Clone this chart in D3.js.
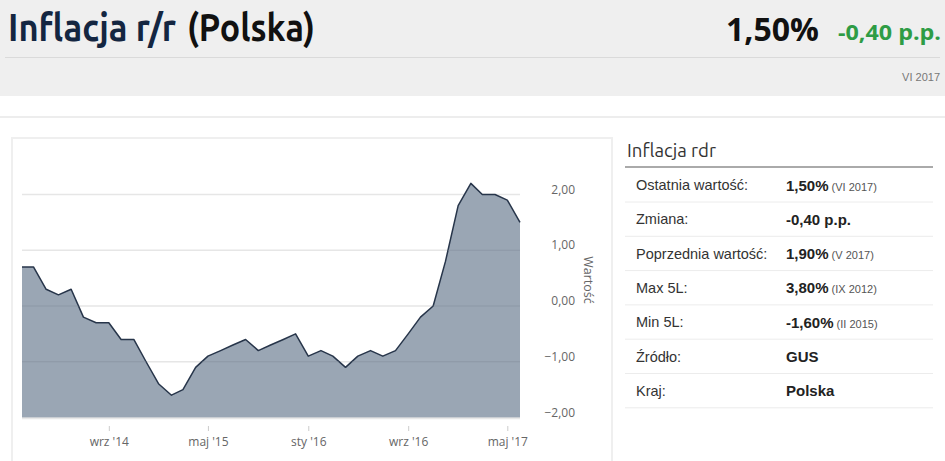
<!DOCTYPE html>
<html lang="pl">
<head>
<meta charset="utf-8">
<title>Inflacja r/r (Polska)</title>
<script src="https://cdn.jsdelivr.net/npm/d3@7"></script>
<style>
    body {margin: 0; background: #fff;}
    svg {display: block;}
    .axis text {font-family: "Open Sans", sans-serif; font-size: 12px; fill: #666;}
    .tbl {font-family: "Liberation Sans", Arial, sans-serif;}
    .ttl {font-family: Ubuntu, "Open Sans", sans-serif; font-size: 38px; font-weight: 600;}
</style>
</head>
<body>
<script>
// monthly CPI y/y, II 2014 - VI 2017
var months = [
    "2014-02","2014-03","2014-04","2014-05","2014-06","2014-07","2014-08","2014-09","2014-10","2014-11","2014-12",
    "2015-01","2015-02","2015-03","2015-04","2015-05","2015-06","2015-07","2015-08","2015-09","2015-10","2015-11","2015-12",
    "2016-01","2016-02","2016-03","2016-04","2016-05","2016-06","2016-07","2016-08","2016-09","2016-10","2016-11","2016-12",
    "2017-01","2017-02","2017-03","2017-04","2017-05","2017-06"
];
var values = [
    0.7, 0.7, 0.3, 0.2, 0.3, -0.2, -0.3, -0.3, -0.6, -0.6, -1.0,
    -1.4, -1.6, -1.5, -1.1, -0.9, -0.8, -0.7, -0.6, -0.8, -0.7, -0.6, -0.5,
    -0.9, -0.8, -0.9, -1.1, -0.9, -0.8, -0.9, -0.8, -0.5, -0.2, 0.0, 0.8,
    1.8, 2.2, 2.0, 2.0, 1.9, 1.5
];
var xTicks = ["2014-09", "2015-05", "2016-01", "2016-09", "2017-05"];
var yTicks = [-2, -1, 0, 1, 2];
var monthNames = ["sty","lut","mar","kwi","maj","cze","lip","sie","wrz","paź","lis","gru"];

var rowLabels = ["Ostatnia wartość:", "Zmiana:", "Poprzednia wartość:", "Max 5L:", "Min 5L:", "Źródło:", "Kraj:"];
var rowValues = ["1,50%", "-0,40 p.p.", "1,90%", "3,80%", "-1,60%", "GUS", "Polska"];
var rowDates  = ["(VI 2017)", "", "(V 2017)", "(IX 2012)", "(II 2015)", "", ""];

var w = 945, h = 461;
var parse = d3.timeParse("%Y-%m");
var data = months.map(function(m, i) { return {date: parse(m), value: values[i]}; });

var svg = d3.select("body").append("svg")
    .attr("width", w)
    .attr("height", h);

// header band
svg.append("rect").attr("x", 0).attr("y", 0).attr("width", w).attr("height", 96).attr("fill", "#efefef");
svg.append("line").attr("x1", 5).attr("x2", 940).attr("y1", 57.5).attr("y2", 57.5)
    .attr("stroke", "#dadada").attr("stroke-width", 1);
svg.append("rect").attr("x", 0).attr("y", 116).attr("width", w).attr("height", 2).attr("fill", "#ededed");

svg.append("text").attr("class", "ttl")
    .attr("x", 8).attr("y", 41)
    .attr("textLength", 168).attr("lengthAdjust", "spacingAndGlyphs")
    .attr("fill", "#142641").text("Inflacja r/r");
svg.append("text").attr("class", "ttl")
    .attr("x", 187).attr("y", 41)
    .attr("textLength", 128).attr("lengthAdjust", "spacingAndGlyphs")
    .attr("fill", "#111").text("(Polska)");

svg.append("text")
    .attr("x", 726).attr("y", 41)
    .attr("textLength", 93).attr("lengthAdjust", "spacingAndGlyphs")
    .style("font-family", "'Open Sans', sans-serif").style("font-size", "32px").style("font-weight", 700)
    .attr("fill", "#111").text("1,50%");
svg.append("text")
    .attr("x", 838).attr("y", 40)
    .attr("textLength", 103).attr("lengthAdjust", "spacingAndGlyphs")
    .style("font-family", "'Open Sans', sans-serif").style("font-size", "21px").style("font-weight", 700)
    .attr("fill", "#2e9c45").text("-0,40 p.p.");
svg.append("text")
    .attr("x", 940).attr("y", 81).attr("text-anchor", "end")
    .style("font-family", "'Liberation Sans', Arial, sans-serif").style("font-size", "11px")
    .attr("fill", "#777").text("VI 2017");

// chart box
svg.append("rect").attr("x", 12).attr("y", 138).attr("width", 600).attr("height", 340)
    .attr("fill", "#fff").attr("stroke", "#efefef").attr("stroke-width", 2);

var x = d3.scaleTime()
    .domain(d3.extent(data, function(d) { return d.date; }))
    .range([22, 520]);
var y = d3.scaleLinear()
    .domain([-2, 2])
    .range([417.5, 194.5]);

// gridlines
svg.append("g").selectAll("line")
    .data(yTicks)
    .enter().append("line")
    .attr("x1", 22).attr("x2", 520)
    .attr("y1", function(d) { return y(d); })
    .attr("y2", function(d) { return y(d); })
    .attr("stroke", "#e6e6e6").attr("stroke-width", 1.5);

var area = d3.area()
    .x(function(d) { return x(d.date); })
    .y0(y(-2))
    .y1(function(d) { return y(d.value); });
var line = d3.line()
    .x(function(d) { return x(d.date); })
    .y(function(d) { return y(d.value); });

svg.append("path").datum(data).attr("d", area).attr("fill", "#9aa6b4");
svg.append("path").datum(data).attr("d", line)
    .attr("fill", "none").attr("stroke", "#27354a").attr("stroke-width", 1.5)
    .attr("stroke-linejoin", "round");

// gridlines over the area (darker where it is covered)
svg.append("clipPath").attr("id", "area-clip")
    .append("path").datum(data).attr("d", area);
svg.append("g").selectAll("line")
    .data(yTicks.filter(function(d) { return d < 2 && d > -2; }))
    .enter().append("line")
    .attr("x1", 22).attr("x2", 520)
    .attr("y1", function(d) { return y(d); })
    .attr("y2", function(d) { return y(d); })
    .attr("stroke", "#7f8b9a").attr("stroke-width", 1).attr("stroke-opacity", 0.5)
    .attr("clip-path", "url(#area-clip)");
svg.append("line").attr("x1", 22).attr("x2", 520).attr("y1", y(-2) + 1).attr("y2", y(-2) + 1)
    .attr("stroke", "#e8e8e8").attr("stroke-width", 1.5);

// x axis
var xAxis = d3.axisBottom(x)
    .tickValues(xTicks.map(parse))
    .tickSize(5)
    .tickPadding(6)
    .tickFormat(function(d) {
        return monthNames[d.getMonth()] + " '" + d3.timeFormat("%y")(d);
    });
var gx = svg.append("g").attr("class", "axis").attr("transform", "translate(0,426)").call(xAxis);
gx.select(".domain").remove();
gx.selectAll(".tick line").attr("stroke", "#ccc");

// y axis (right)
svg.append("g").attr("class", "axis").selectAll("text")
    .data(yTicks)
    .enter().append("text")
    .attr("x", 575).attr("y", function(d) { return y(d) - 1; })
    .attr("text-anchor", "end")
    .text(function(d) { return d3.format(".2f")(d).replace(".", ",").replace("-", "\u2212"); });

svg.append("text")
    .attr("transform", "translate(584,280) rotate(90)")
    .attr("text-anchor", "middle")
    .style("font-family", "'Open Sans', sans-serif").style("font-size", "12.5px")
    .attr("fill", "#666").text("Wartość");

// right panel
svg.append("text")
    .attr("x", 627).attr("y", 157)
    .attr("textLength", 89).attr("lengthAdjust", "spacingAndGlyphs")
    .style("font-family", "Ubuntu, 'Open Sans', sans-serif").style("font-size", "19px")
    .attr("fill", "#333").text("Inflacja rdr");
svg.append("rect").attr("x", 625).attr("y", 166).attr("width", 308).attr("height", 2).attr("fill", "#aaa");

var rowY = d3.scaleLinear().domain([0, 1]).range([185, 219.3]);

var rows = svg.append("g").attr("class", "tbl").selectAll("g")
    .data(rowLabels)
    .enter().append("g")
    .attr("transform", function(d, i) { return "translate(0," + rowY(i) + ")"; });

rows.append("line")
    .attr("x1", 625).attr("x2", 933).attr("y1", 17).attr("y2", 17)
    .attr("stroke", "#ececec").attr("stroke-width", 1);
rows.append("text")
    .attr("x", 636).attr("y", 5)
    .style("font-size", "14.5px").attr("fill", "#333")
    .text(function(d) { return d; });
var vt = rows.append("text")
    .attr("x", 786).attr("y", 5.5)
    .attr("fill", "#222");
vt.append("tspan")
    .style("font-size", "15px").style("font-weight", 700)
    .text(function(d, i) { return rowValues[i]; });
vt.append("tspan")
    .style("font-size", "11px").attr("fill", "#555")
    .text(function(d, i) { return rowDates[i] ? " " + rowDates[i] : ""; });
</script>
</body>
</html>
